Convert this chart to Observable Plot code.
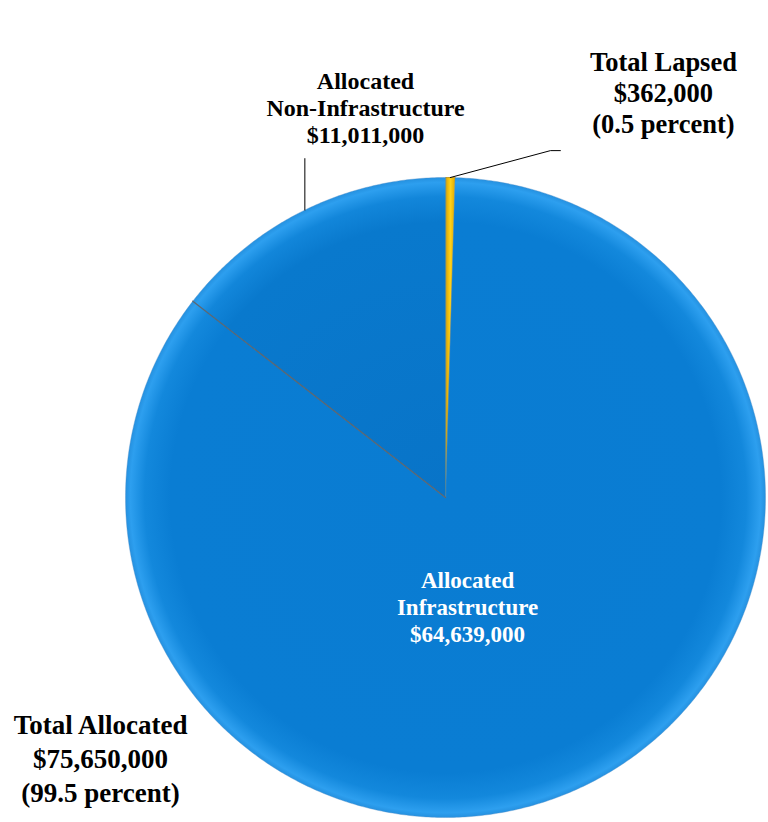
<!DOCTYPE html>
<html>
<head>
<meta charset="utf-8">
<script src="https://cdn.jsdelivr.net/npm/d3@7"></script>
<script src="https://cdn.jsdelivr.net/npm/@observablehq/plot@0.6"></script>
<style>
  html, body { margin: 0; padding: 0; background: #fff; }
  #chart svg { display: block; }
</style>
</head>
<body>
<div id="chart"></div>
<script>
// ---- Data ----
const slices = ["Total Lapsed", "Allocated Infrastructure", "Allocated Non-Infrastructure"];
const values = [362000, 64639000, 11011000];
const sliceFills = ["url(#gold)", "url(#rimA)", "url(#rimB)"];

// labels (text, position in pie units where radius = 1)
const labelTexts = [
  "Total Lapsed\n$362,000\n(0.5 percent)",
  "Allocated\nInfrastructure\n$64,639,000",
  "Allocated\nNon-Infrastructure\n$11,011,000",
  "Total Allocated\n$75,650,000\n(99.5 percent)"
];
const labelX = [0.681, 0.069, -0.25, -1.078];
const labelY = [1.266, -0.34, 1.219, -0.8125];
const labelSize = [26.5, 23, 24, 27];
const labelColor = ["#000", "#fff", "#000", "#000"];
const labelLineHeight = [1.17, 1.17, 1.12, 1.26];

// leader line elbows (pie units) for Lapsed and Non-Infrastructure
const leaderBendX = [0.328, null];
const leaderBendY = [1.084, 1.059];
const leaderEndX = [0.359, null];

// ---- Geometry from data ----
const arcs = d3.pie().sort(null).value(d => d)(values);
const polys = arcs.map((a, i) => {
  const pts = [{x: 0, y: 0}];
  const n = Math.max(4, Math.ceil((a.endAngle - a.startAngle) / (Math.PI / 360)));
  for (let k = 0; k <= n; k++) {
    const t = a.startAngle + (a.endAngle - a.startAngle) * k / n;
    pts.push({x: Math.sin(t), y: Math.cos(t)});
  }
  return pts;
});
const radials = arcs.map(a => [{x: 0, y: 0}, {x: Math.sin(a.startAngle), y: Math.cos(a.startAngle)}]);
const mid = arcs.map(a => (a.startAngle + a.endAngle) / 2);
const rimPt = mid.map(m => ({x: Math.sin(m), y: Math.cos(m)}));

const leaders = [
  [rimPt[0], {x: leaderBendX[0], y: leaderBendY[0]}, {x: leaderEndX[0], y: leaderBendY[0]}],
  [rimPt[2], {x: rimPt[2].x, y: leaderBendY[1]}]
];

const labels = labelTexts.map((t, i) => ({t, x: labelX[i], y: labelY[i], s: labelSize[i], c: labelColor[i], lh: labelLineHeight[i]}));

const W = 768, H = 822;
const cxPx = 445, cyPx = 497, R = 320;

const defsMark = (index, scales) => {
  const ns = "http://www.w3.org/2000/svg";
  const g = document.createElementNS(ns, "g");
  const cx = scales.x(0), cy = scales.y(0), r = scales.x(1) - scales.x(0);
  g.innerHTML = `<defs>
    <radialGradient id="rimA" gradientUnits="userSpaceOnUse" cx="${cx}" cy="${cy}" r="${r}">
      <stop offset="0" stop-color="#0a7cd2"/>
      <stop offset="0.86" stop-color="#0a7dd3"/>
      <stop offset="0.94" stop-color="#1388dc"/>
      <stop offset="0.985" stop-color="#2d9fef"/>
      <stop offset="1" stop-color="#2591e0"/>
    </radialGradient>
    <radialGradient id="rimB" gradientUnits="userSpaceOnUse" cx="${cx}" cy="${cy}" r="${r}">
      <stop offset="0" stop-color="#0874c8"/>
      <stop offset="0.86" stop-color="#0979cd"/>
      <stop offset="0.94" stop-color="#1286da"/>
      <stop offset="0.985" stop-color="#2d9fef"/>
      <stop offset="1" stop-color="#2591e0"/>
    </radialGradient>
    <linearGradient id="gold" x1="0" x2="1" y1="0" y2="0">
      <stop offset="0" stop-color="#d9a200"/>
      <stop offset="0.5" stop-color="#ffd21a"/>
      <stop offset="1" stop-color="#e0a800"/>
    </linearGradient>
  </defs>`;
  return g;
};

const chart = Plot.plot({
  width: W,
  height: H,
  margin: 0,
  x: {domain: [-cxPx / R, (W - cxPx) / R], axis: null},
  y: {domain: [(cyPx - H) / R, cyPx / R], axis: null},
  style: {background: "#fff", overflow: "visible"},
  marks: [
    defsMark,
    ...polys.map((p, i) => Plot.line(p, {
      x: "x", y: "y", curve: "linear-closed",
      fill: sliceFills[i],
      stroke: i === 0 ? "#b88a00" : "#4f8fc8",
      strokeWidth: i === 0 ? 0.8 : 0.8,
      strokeOpacity: i === 0 ? 1 : 0.5,
      strokeLinejoin: "round"
    })),
    Plot.line(radials[2], {x: "x", y: "y", stroke: "#5b6772", strokeWidth: 1.3}),
    ...leaders.map(l => Plot.line(l, {x: "x", y: "y", stroke: "#000", strokeWidth: 1})),
    ...labels.map(d => Plot.text([d], {
      x: "x", y: "y", text: "t",
      fill: d.c, fontSize: d.s, fontWeight: "bold",
      fontFamily: "'Liberation Serif', 'Times New Roman', serif",
      lineHeight: d.lh, lineAnchor: "middle", textAnchor: "middle"
    }))
  ]
});

document.getElementById("chart").appendChild(chart);
</script>
</body>
</html>
